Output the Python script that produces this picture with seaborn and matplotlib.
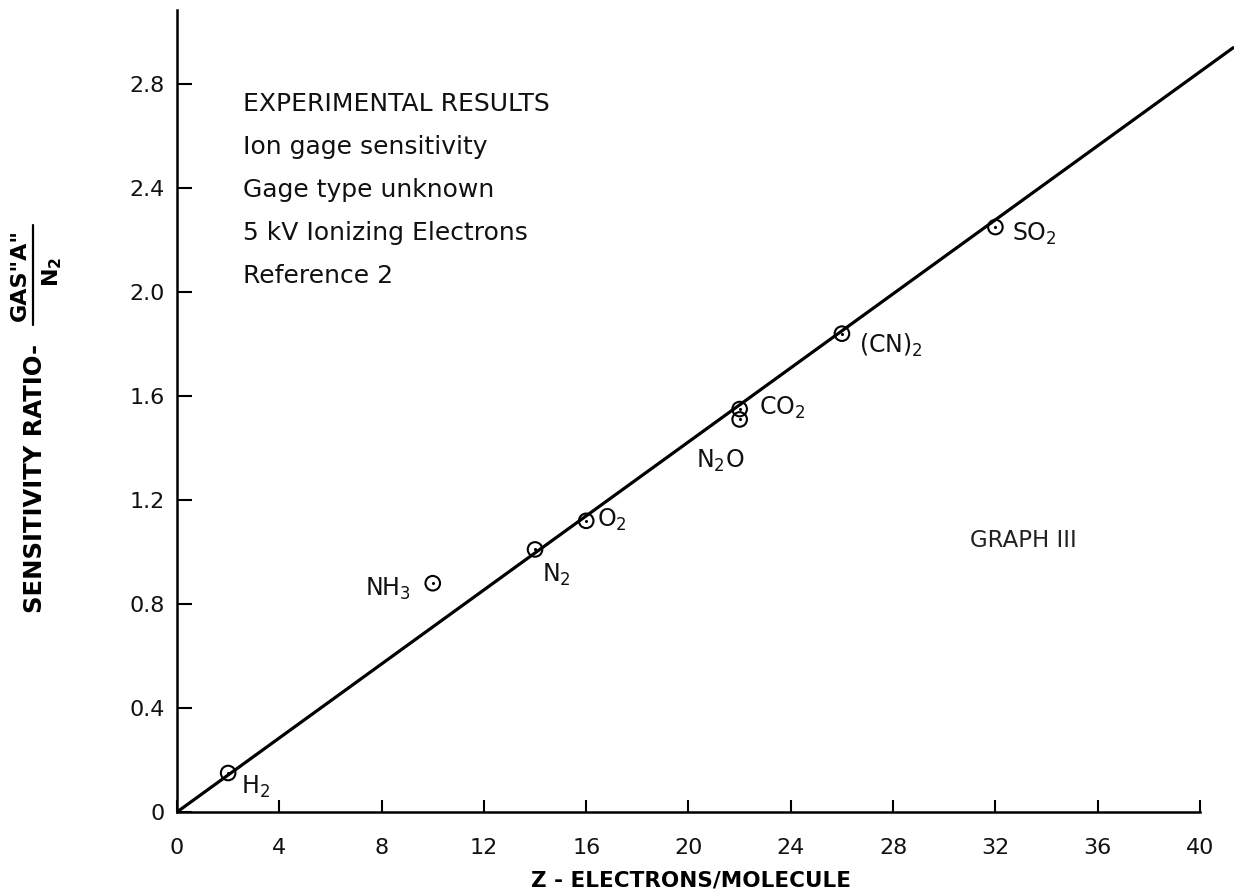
import numpy as np
import seaborn as sns
import matplotlib.pyplot as plt
from matplotlib.lines import Line2D

# values
gases = ['H2', 'NH3', 'N2', 'O2', 'CO2', 'CO2', '(CN)2', 'SO2']
z = [2, 10, 14, 16, 22, 22, 26, 32]
ratio = [0.15, 0.88, 1.01, 1.12, 1.55, 1.51, 1.84, 2.25]

# straight line through origin
line_z = [0, 41.3]
line_ratio = [0, 2.94]

gas_labels = ['H$_2$', 'NH$_3$', 'N$_2$', 'O$_2$', 'CO$_2$', None, '(CN)$_2$', 'SO$_2$']
# label offsets in points (dx, dy) from each point
label_offsets = [(9, -15), (-16, -9), (5, -23), (8, -4), (14, -4), None, (12, -14), (12, -10)]

notes = ['EXPERIMENTAL RESULTS', 'Ion gage sensitivity', 'Gage type unknown',
         '5 kV Ionizing Electrons', 'Reference 2']

xticks = np.arange(0, 41, 4)
yticks = [0, 0.4, 0.8, 1.2, 1.6, 2.0, 2.4, 2.8]
ytick_labels = ['0', '0.4', '0.8', '1.2', '1.6', '2.0', '2.4', '2.8']

sns.set_theme(style='white')
plt.rcParams['font.family'] = ['DejaVu Sans']
plt.rcParams['text.color'] = 'black'

W, H = 1234, 894
fig = plt.figure(figsize=(W / 100, H / 100), dpi=100)
ax = fig.add_axes([177 / W, 82 / H, (W - 177) / W, 802 / H])

sns.lineplot(x=line_z, y=line_ratio, ax=ax, color='black', linewidth=2.3)
sns.scatterplot(x=z, y=ratio, ax=ax, marker='o', s=110, facecolor='none',
                edgecolor='black', linewidth=1.5, zorder=3)
sns.scatterplot(x=z, y=ratio, ax=ax, marker='o', s=5, color='black',
                linewidth=0, zorder=4)

for zi, ri, lab, off in zip(z, ratio, gas_labels, label_offsets):
    if lab is None:
        continue
    ha = 'right' if off[0] < 0 else 'left'
    ax.annotate(lab, (zi, ri), xytext=off, textcoords='offset points',
                ha=ha, va='baseline', fontsize=17, color='#111111')

ax.text(20.3, 1.323, 'N$_2$O', fontsize=17, ha='left', va='baseline', color='#111111')
ax.text(31.0, 1.02, 'GRAPH III', fontsize=16.5, ha='left', va='baseline', color='#222222')

for i, line in enumerate(notes):
    ax.text(2.58, 2.696 - i * 0.1654, line, fontsize=18, ha='left', va='baseline',
            color='#111111')

ax.set_xlim(0, 41.33)
ax.set_ylim(0, 3.085)
ax.set_xticks(xticks)
ax.set_xticklabels([str(t) for t in xticks])
ax.set_yticks(yticks)
ax.set_yticklabels(ytick_labels)
ax.tick_params(axis='x', direction='in', length=9, width=1.5, pad=19,
               labelsize=16, colors='black', bottom=True)
ax.tick_params(axis='y', direction='in', length=11, width=1.5, pad=9,
               labelsize=16, colors='black', left=True)
for t in ax.get_xticklabels() + ax.get_yticklabels():
    t.set_color('#111111')

sns.despine(ax=ax)
ax.spines['bottom'].set_bounds(0, 40)
ax.spines['bottom'].set_linewidth(1.8)
ax.spines['left'].set_linewidth(1.8)
ax.spines['bottom'].set_color('black')
ax.spines['left'].set_color('black')
ax.set_xlabel('')
ax.set_ylabel('')

fig.text(691 / W, 1 - 880 / H, 'Z - ELECTRONS/MOLECULE', fontsize=15.5,
         fontweight='bold', ha='center', va='center', color='black')

# y label built from pieces: text plus a fraction
fig.text(35 / W, 1 - 478 / H, 'SENSITIVITY RATIO-', rotation=90, fontsize=17.5,
         fontweight='bold', ha='center', va='center', color='black')
fig.text(20 / W, 1 - 275 / H, 'GAS"A"', rotation=90, fontsize=16,
         fontweight='bold', ha='center', va='center', color='black')
fig.text(52 / W, 1 - 272 / H, r'$\mathbf{N_2}$', rotation=90, fontsize=16,
         ha='center', va='center', color='black')
fig.add_artist(Line2D([33 / W, 33 / W], [1 - 225 / H, 1 - 325 / H],
                      transform=fig.transFigure, color='black', linewidth=1.6))

fig.savefig('out.png', dpi=100)
